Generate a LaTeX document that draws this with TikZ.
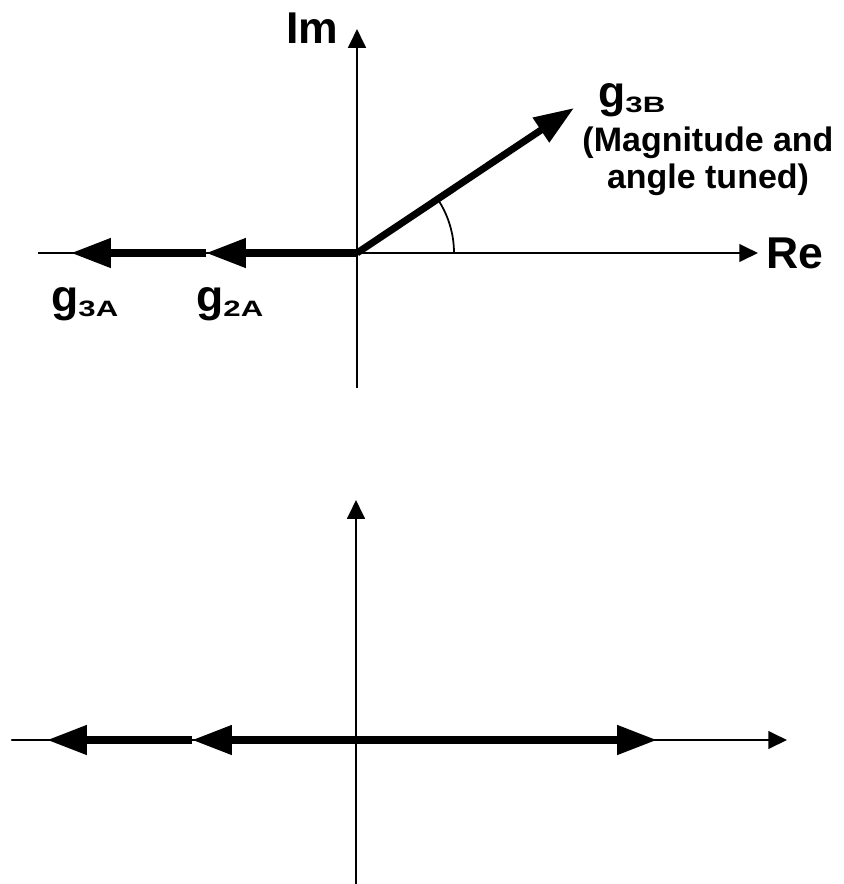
\documentclass[tikz,border=0pt]{standalone}
\usepackage{fontspec}
\setmainfont{Liberation Sans}
\usetikzlibrary{arrows.meta}

\newcommand{\gsub}[1]{{\fontsize{38}{40}\selectfont g}\raisebox{-5pt}{\scalebox{1.4}[1]{\fontsize{19}{20}\selectfont #1}}}

\begin{document}
\begin{tikzpicture}[x=0.03cm, y=-0.03cm,
  axis/.style={line width=2.2pt, -{Triangle[length=16pt, width=15pt]}},
  vec/.style={line width=6pt, -{Triangle[length=34pt, width=24pt]}},
  big/.style={font=\bfseries\fontsize{38}{40}\selectfont, inner sep=0pt},
  lbl/.style={font=\bfseries, inner sep=0pt, anchor=base west}]
  \useasboundingbox (0,0) rectangle (844,884);

  % upper plane: g3B tuned
  \coordinate (o1) at (357,253);
  \coordinate (reL) at (38,253);
  \coordinate (reR) at (758,253);
  \coordinate (imB) at (357,388);
  \coordinate (imT) at (357,29);
  \coordinate (t2a) at (206,253);
  \coordinate (t3a) at (71,253);
  \coordinate (t3b) at (574,108);
  \coordinate (arcstart) at (454,253);

  \draw[axis] (reL) -- (reR);
  \draw[axis] (imB) -- (imT);
  \draw[line width=1.5pt] (arcstart) arc[start angle=0, end angle=-33.7, radius=97];
  \draw[vec] (o1) -- (t2a);
  \draw[vec] (t2a) -- (t3a);
  \draw[vec] (o1) -- (t3b);

  \node (im) [big, anchor=base] at (312,43) {Im};
  \node (re) [big, anchor=base west] at (766,268) {Re};
  \node (g3b) [lbl] at (598,107) {\gsub{3B}};
  \node (tuned) [font=\bfseries\fontsize{29}{31.6}\selectfont, align=center, inner sep=0pt] at (708,161) {(Magnitude and\\angle tuned)};
  \node (g3a) [lbl] at (51,311) {\gsub{3A}};
  \node (g2a) [lbl] at (196,311) {\gsub{2A}};

  % lower plane: all on the real axis
  \coordinate (o2) at (356,740);
  \coordinate (xL) at (12,740);
  \coordinate (xR) at (787,740);
  \coordinate (yB) at (356,884);
  \coordinate (yT) at (356,500);
  \coordinate (b2a) at (192,740);
  \coordinate (b3a) at (47,740);
  \coordinate (b3b) at (657,740);

  \draw[axis, line cap=round] (xL) -- (xR);
  \draw[axis] (yB) -- (yT);
  \draw[vec] (o2) -- (b2a);
  \draw[vec] (b2a) -- (b3a);
  \draw[vec] (o2) -- (b3b);
\end{tikzpicture}
\end{document}
